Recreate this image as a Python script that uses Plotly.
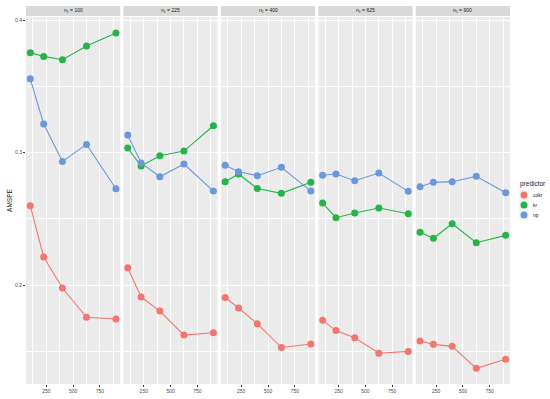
import plotly.graph_objects as go
from plotly.subplots import make_subplots

n1_levels = [100, 225, 400, 625, 900]
x_vals = [100, 225, 400, 625, 900]
predictors = ["cokr", "kr", "np"]
colors = {"cokr": "#F2766E", "kr": "#26B34A", "np": "#6B98DB"}

# AMSPE values per panel (n1), per predictor, across x
amspe = {
    "cokr": [
        [0.2600, 0.2213, 0.1979, 0.1758, 0.1745],
        [0.2132, 0.1911, 0.1805, 0.1624, 0.1642],
        [0.1907, 0.1828, 0.1710, 0.1530, 0.1557],
        [0.1735, 0.1658, 0.1604, 0.1487, 0.1501],
        [0.1579, 0.1554, 0.1539, 0.1373, 0.1441],
    ],
    "kr": [
        [0.3753, 0.3726, 0.3701, 0.3804, 0.3902],
        [0.3035, 0.2899, 0.2977, 0.3012, 0.3203],
        [0.2781, 0.2839, 0.2730, 0.2693, 0.2776],
        [0.2620, 0.2509, 0.2545, 0.2582, 0.2539],
        [0.2399, 0.2354, 0.2464, 0.2321, 0.2376],
    ],
    "np": [
        [0.3557, 0.3216, 0.2934, 0.3062, 0.2728],
        [0.3133, 0.2922, 0.2818, 0.2914, 0.2710],
        [0.2904, 0.2856, 0.2826, 0.2889, 0.2710],
        [0.2829, 0.2839, 0.2788, 0.2846, 0.2708],
        [0.2743, 0.2776, 0.2781, 0.2821, 0.2698],
    ],
}

FONT = "Liberation Sans, Arial, sans-serif"
W, H = 550, 399
ML, MR, MT, MB = 26, 40, 17, 15
plot_h = H - MT - MB
plot_w = W - ML - MR

fig = make_subplots(rows=1, cols=5, shared_yaxes=True,
                    horizontal_spacing=3.2 / plot_w)

for ci in range(5):
    for p in predictors:
        fig.add_trace(go.Scatter(
            x=x_vals, y=amspe[p][ci], mode="lines+markers",
            line=dict(color=colors[p], width=1.1),
            marker=dict(color=colors[p], size=7, line=dict(width=0)),
            name=p, showlegend=False), row=1, col=ci + 1)

for ci in range(5):
    fig.update_xaxes(
        row=1, col=ci + 1, range=[60, 940], automargin=False,
        tickvals=[250, 500, 750], ticktext=["250", "500", "750"],
        ticks="outside", ticklen=2, tickwidth=0.8, tickcolor="#333333",
        tickfont=dict(family=FONT, size=5, color="#4D4D4D"),
        showgrid=True, gridcolor="white", gridwidth=1,
        minor=dict(tickvals=[125, 375, 625, 875], showgrid=True,
                   gridcolor="white", gridwidth=0.5, ticks=""),
        zeroline=False, showline=False, fixedrange=True)
    fig.update_yaxes(
        row=1, col=ci + 1, range=[0.1255, 0.4023], automargin=False,
        tickvals=[0.2, 0.3, 0.4], ticktext=["0.2", "0.3", "0.4"],
        ticks="outside" if ci == 0 else "", ticklen=2, tickwidth=0.8,
        tickcolor="#333333",
        tickfont=dict(family=FONT, size=5, color="#4D4D4D"),
        showgrid=True, gridcolor="white", gridwidth=1,
        minor=dict(tickvals=[0.15, 0.25, 0.35], showgrid=True,
                   gridcolor="white", gridwidth=0.5, ticks=""),
        zeroline=False, showline=False, fixedrange=True)

fig.update_yaxes(row=1, col=1, title=dict(text="AMSPE", standoff=1,
                 font=dict(family=FONT, size=6.5, color="#1A1A1A")))

shapes = []
annotations = []
s0 = 1 + 1 / plot_h
s1 = 1 + 11 / plot_h
for ci, n in enumerate(n1_levels):
    xr = "x" if ci == 0 else f"x{ci + 1}"
    yr = "y" if ci == 0 else f"y{ci + 1}"
    shapes.append(dict(type="rect", xref=f"{xr} domain", yref=f"{yr} domain",
                       x0=0, x1=1, y0=s0, y1=s1, fillcolor="#D9D9D9",
                       line=dict(width=0), layer="below"))
    annotations.append(dict(xref=f"{xr} domain", yref=f"{yr} domain",
                            x=0.5, y=(s0 + s1) / 2, showarrow=False,
                            text=f"n<sub>1</sub> = {n}", xanchor="center",
                            yanchor="middle",
                            font=dict(family=FONT, size=5, color="#1A1A1A")))

# manual legend
def px_x(px):
    return (px - ML) / plot_w

def px_y(py):
    return (H - MB - py) / plot_h

annotations.append(dict(xref="paper", yref="paper", x=px_x(518), y=px_y(184),
                        text="predictor", showarrow=False, xanchor="left",
                        yanchor="middle",
                        font=dict(family=FONT, size=6.5, color="#1A1A1A")))
for i, p in enumerate(predictors):
    cy = 195 + 10 * i
    shapes.append(dict(type="rect", xref="paper", yref="paper",
                       x0=px_x(519), x1=px_x(529), y0=px_y(cy + 5), y1=px_y(cy - 5),
                       fillcolor="#F2F2F2", line=dict(color="white", width=0.5)))
    shapes.append(dict(type="circle", xref="paper", yref="paper",
                       xsizemode="pixel", ysizemode="pixel",
                       xanchor=px_x(524), yanchor=px_y(cy),
                       x0=-3.5, x1=3.5, y0=-3.5, y1=3.5,
                       fillcolor=colors[p], line=dict(width=0)))
    annotations.append(dict(xref="paper", yref="paper", x=px_x(531), y=px_y(cy),
                            text=p, showarrow=False, xanchor="left",
                            yanchor="middle",
                            font=dict(family=FONT, size=5, color="#1A1A1A")))

fig.update_layout(
    width=W, height=H,
    margin=dict(l=ML, r=MR, t=MT, b=MB, autoexpand=False),
    paper_bgcolor="white", plot_bgcolor="#EBEBEB",
    shapes=shapes, annotations=annotations, showlegend=False,
    font=dict(family=FONT, size=5, color="#4D4D4D"),
)

fig.write_html("out.html", config={"displayModeBar": False},
               post_script="document.body.style.margin='0';"
                           "document.body.style.padding='0';")
